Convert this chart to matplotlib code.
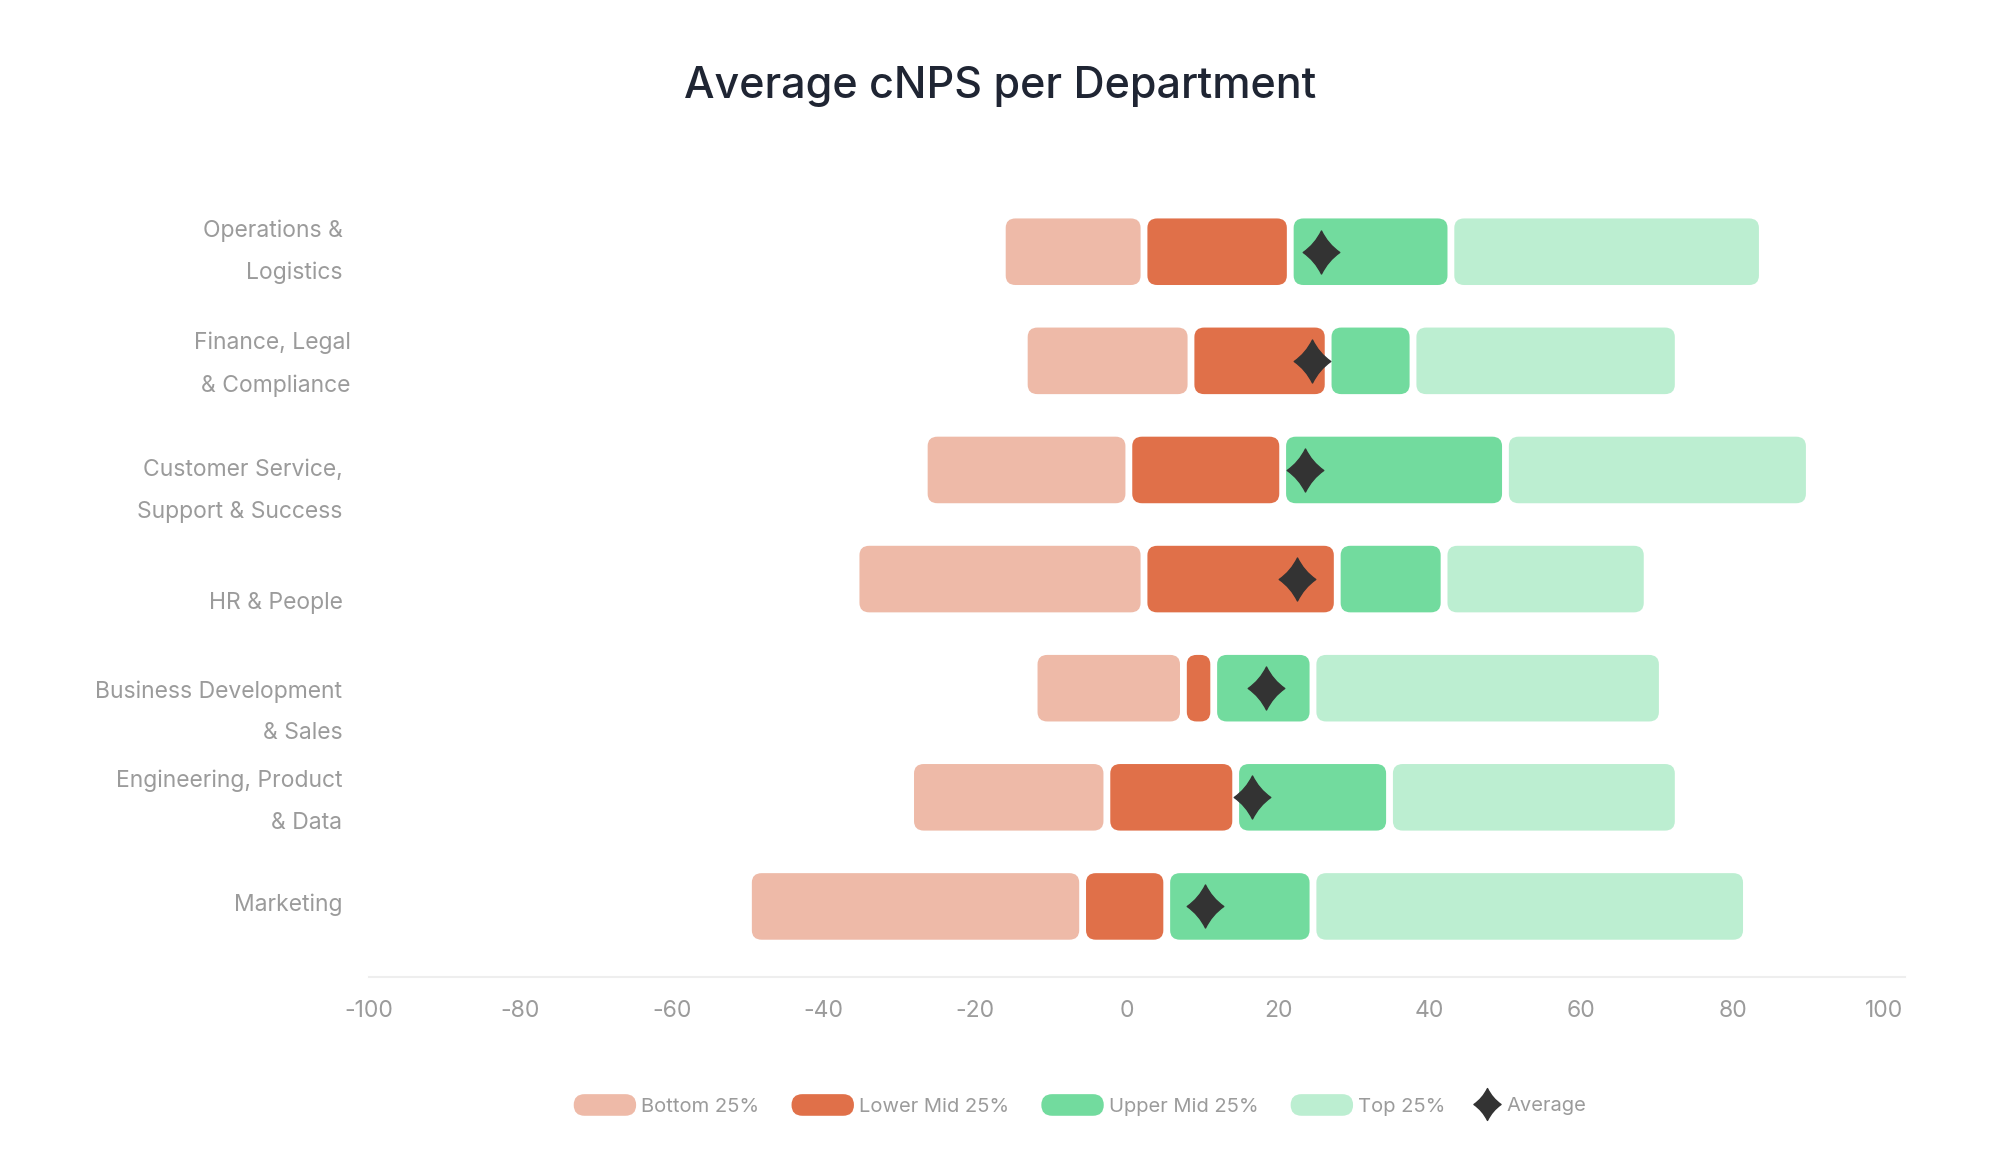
import matplotlib
matplotlib.use('Agg')
import matplotlib.pyplot as plt
import matplotlib.transforms as mtransforms
import numpy as np
from matplotlib.patches import FancyBboxPatch, Patch
from matplotlib.lines import Line2D
from matplotlib.legend_handler import HandlerPatch
from matplotlib.path import Path

plt.rcParams['font.family'] = ['Inter', 'DejaVu Sans']

# datos
departamentos = ['Operations &\nLogistics', 'Finance, Legal\n& Compliance',
                 'Customer Service,\nSupport & Success', 'HR & People',
                 'Business Development\n& Sales', 'Engineering, Product\n& Data',
                 'Marketing']
p0 = [-16.4, -13.5, -26.7, -35.7, -12.2, -28.5, -49.9]
p25 = [2.3, 8.5, 0.3, 2.3, 7.5, -2.6, -5.8]
p50 = [21.6, 26.6, 20.6, 27.8, 11.5, 14.4, 5.3]
p75 = [42.8, 37.8, 50.0, 41.9, 24.6, 34.7, 24.6]
p100 = [83.9, 72.8, 90.1, 68.7, 70.7, 72.8, 81.8]
promedio = [25.7, 24.5, 23.5, 22.5, 18.4, 16.6, 10.3]

series = ['Bottom 25%', 'Lower Mid 25%', 'Upper Mid 25%', 'Top 25%']
colores = ['#EEBAA8', '#E07049', '#72DB9E', '#BCEED1']
ticks = [-100, -80, -60, -40, -20, 0, 20, 40, 60, 80, 100]

gris = '#9b9b9b'

# pequenos corrimientos de las etiquetas (puntos), como en el original
desplaz_x = [0, 6, 0, 0, 0, 0, 0]
desplaz_y = [9, 6.5, -6.5, -15.5, -8.5, 5.5, 3]

# marcador tipo diamante con lados un poco concavos
verts = [(0, 1), (0.3, 0.38), (0.85, 0), (0.3, -0.38), (0, -1),
         (-0.3, -0.38), (-0.85, 0), (-0.3, 0.38), (0, 1), (0, 1)]
codes = [Path.MOVETO, Path.CURVE3, Path.CURVE3, Path.CURVE3, Path.CURVE3,
         Path.CURVE3, Path.CURVE3, Path.CURVE3, Path.CURVE3, Path.CLOSEPOLY]
diamante = Path(verts, codes)

fig = plt.figure(figsize=(20, 11.74), dpi=100)
ax = fig.add_axes([0.1844, 0.1675, 0.768, 0.6785])

y = np.arange(len(departamentos))
limites = np.array([p0, p25, p50, p75, p100])
alto = 0.61
gap = 0.45

# pixeles por unidad para redondear esquinas parejo
ax.set_xlim(-100, 102.7)
ax.set_ylim(len(departamentos) - 0.35, -0.65)
fig.canvas.draw()
bbox = ax.get_window_extent()
px_x = bbox.width / (102.7 + 100)
px_y = bbox.height / len(departamentos)
aspecto = px_x / px_y

for i in range(4):
    izq = limites[i]
    ancho = limites[i + 1] - limites[i]
    barras = ax.barh(y, ancho, left=izq, height=alto, color=colores[i])
    for rect in barras:
        x0, y0 = rect.get_x(), rect.get_y()
        w, h = rect.get_width(), rect.get_height()
        rect.remove()
        caja = FancyBboxPatch((x0 + gap, y0), w - 2 * gap, h,
                              boxstyle='round,pad=0,rounding_size=1.3',
                              mutation_aspect=aspecto,
                              fc=colores[i], ec='none', zorder=2)
        ax.add_patch(caja)

ax.plot(promedio, y, ls='none', marker=diamante, markersize=31,
        color='#333333', zorder=4)

ax.set_yticks(y)
ax.set_yticklabels(departamentos, linespacing=2.15)
ax.set_xticks(ticks)
ax.set_xticklabels([str(t) for t in ticks])
ax.tick_params(axis='y', length=0, pad=19, labelsize=16.5, labelcolor=gris)
ax.tick_params(axis='x', length=0, pad=16, labelsize=16.5, labelcolor=gris)

for lab, dx, dy in zip(ax.get_yticklabels(), desplaz_x, desplaz_y):
    off = mtransforms.ScaledTranslation(dx / 72, dy / 72, fig.dpi_scale_trans)
    lab.set_transform(lab.get_transform() + off)

for s in ['top', 'right', 'left']:
    ax.spines[s].set_visible(False)
ax.spines['bottom'].set_color('#eeeeee')
ax.spines['bottom'].set_linewidth(1.5)

fig.text(0.5, 0.926, 'Average cNPS per Department', ha='center', va='center',
         fontsize=31, fontweight='medium', color='#1f2533')


class Pastilla(HandlerPatch):
    def create_artists(self, legend, orig_handle, xdescent, ydescent,
                       width, height, fontsize, trans):
        p = FancyBboxPatch((-xdescent, -ydescent - 0.1 * height), width, height * 1.2,
                           boxstyle='round,pad=0,rounding_size=%f' % (height * 0.6),
                           fc=orig_handle.get_facecolor(), ec='none',
                           transform=trans)
        return [p]


handles = [Patch(facecolor=c) for c in colores]
leg = fig.legend(handles, series, loc='center', bbox_to_anchor=(0.5048, 0.058),
                 ncol=4, frameon=False, fontsize=14.5, handlelength=3.1,
                 handleheight=1.0, handletextpad=0.25, columnspacing=1.6,
                 handler_map={Patch: Pastilla()})
for t in leg.get_texts():
    t.set_color(gris)

# leyenda aparte para el promedio
marca = Line2D([], [], ls='none', marker=diamante, markersize=23, color='#333333')
leg2 = fig.legend([marca], ['Average'], loc='center', bbox_to_anchor=(0.7654, 0.058),
                  frameon=False, fontsize=14.5, handlelength=1.2,
                  handletextpad=0.35)
for t in leg2.get_texts():
    t.set_color(gris)

fig.savefig('out.png', dpi=100, facecolor='white')
